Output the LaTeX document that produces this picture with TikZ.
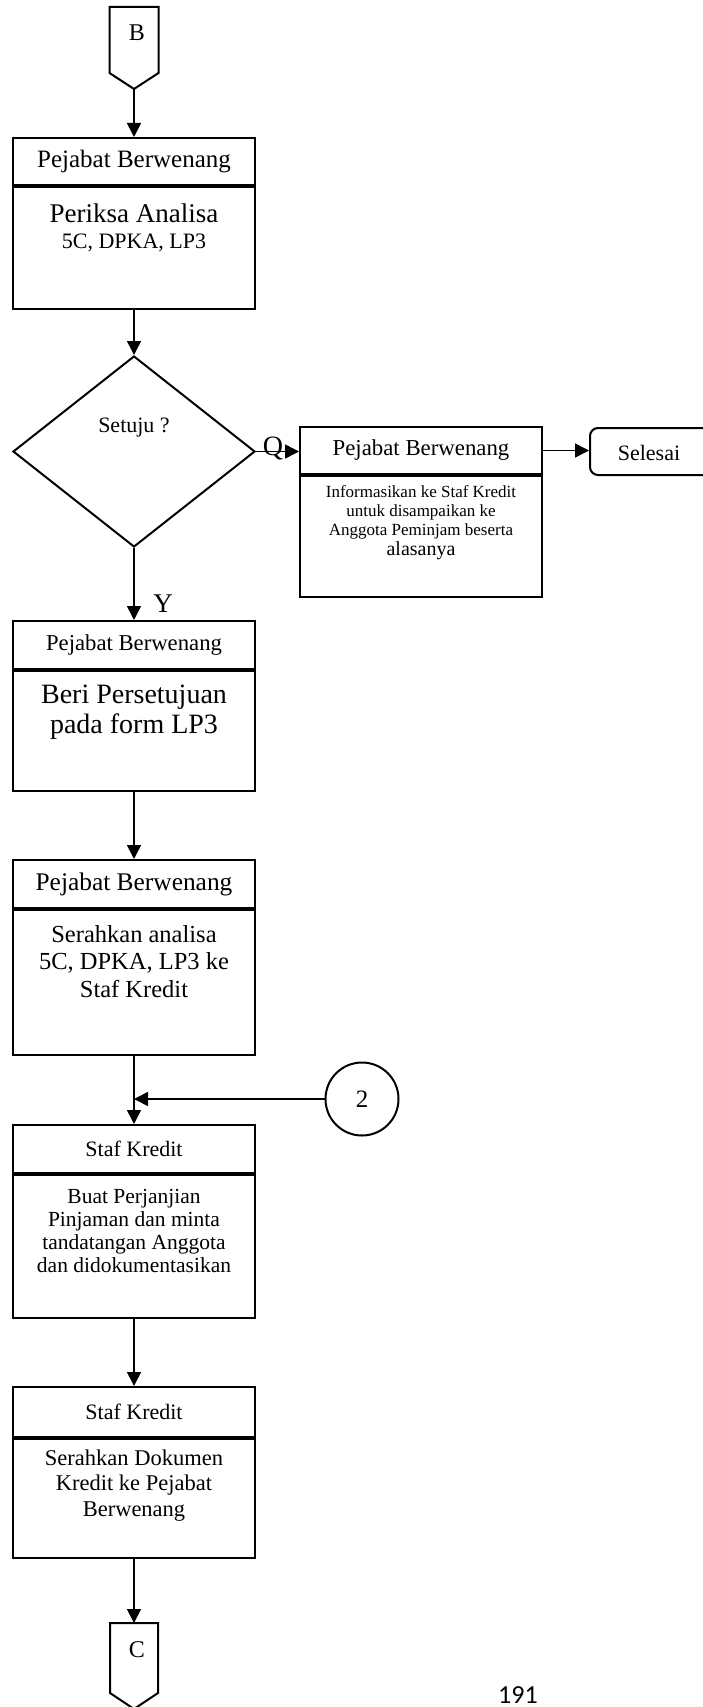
\documentclass[tikz,border=0pt]{standalone}
\usepackage{fontspec}
\setmainfont{Liberation Serif}
\newfontfamily\carl{Carlito}
\usetikzlibrary{shapes.geometric,arrows.meta}
\newcommand\fsz[1]{\fontsize{#1}{#1}\selectfont}
\begin{document}
\begin{tikzpicture}[x=1pt,y=-1pt,
  hdr/.style={draw, line width=2pt, minimum width=242pt, inner sep=0pt, anchor=north},
  bdy/.style={draw, line width=2pt, minimum width=242pt, inner sep=0pt, anchor=north},
  arr/.style={line width=1.6pt, -{Triangle[length=14pt,width=14pt]}},
  ln/.style={inner sep=0pt, align=center},
  conn/.style={draw, line width=2pt, line join=miter}]
\useasboundingbox (0,0) rectangle (703,1707);
\clip (0,0) rectangle (703,1707);

% connector B
\draw[conn] (109.5,7) -- (158.5,7) -- (158.5,73) -- (134,89) -- (109.5,73) -- cycle;
\coordinate (Bp) at (134,89);
\node[font=\fsz{24}, inner sep=0pt] (Bt) at (137,33) {B};

% box 1
\node[hdr, minimum height=47pt, font=\fsz{25}] (h1) at (134,137) {Pejabat Berwenang};
\node[bdy, minimum height=122pt] (b1) at (h1.south) {};
\node[ln, font=\fsz{27}] (t1a) at (134,213) {Periksa Analisa};
\node[ln, font=\fsz{22}] (t1b) at (134,243) {5C, DPKA, LP3};

% decision
\node[diamond, draw, line width=2pt, minimum width=242pt, minimum height=191pt, inner sep=0pt] (d) at (134,451.5) {};
\node[font=\fsz{22}, inner sep=0pt] (st) at (134,428) {Setuju ?};

% right box
\node[hdr, minimum height=47pt, font=\fsz{22.8}] (hR) at (421,426) {Pejabat Berwenang};
\node[bdy, minimum height=121pt] (bR) at (hR.south) {};
\node[ln, font=\fontsize{17}{19}\selectfont] (tRa) at (421,512) {Informasikan ke Staf Kredit\\untuk disampaikan ke\\Anggota Peminjam beserta};
\node[ln, font=\fsz{20}] (tRb) at (421,551) {alasanya};

% selesai
\node[draw, line width=2pt, rounded corners=8pt, minimum width=130pt, minimum height=47pt, anchor=west, inner sep=0pt] (sel) at (589,451.5) {};
\node[font=\fsz{22}, inner sep=0pt] (selt) at (649,453) {Selesai};

% box 3
\node[hdr, minimum height=48pt, font=\fsz{22.7}] (h3) at (134,620) {Pejabat Berwenang};
\node[bdy, minimum height=120pt] (b3) at (h3.south) {};
\node[ln, font=\fontsize{28}{30}\selectfont] (t3) at (134,712) {Beri Persetujuan\\pada form LP3};

% box 4
\node[hdr, minimum height=48pt, font=\fsz{25.4}] (h4) at (134,859) {Pejabat Berwenang};
\node[bdy, minimum height=145pt] (b4) at (h4.south) {};
\node[ln, font=\fontsize{24.5}{27.5}\selectfont] (t4) at (134,961.5) {Serahkan analisa\\5C, DPKA, LP3 ke\\Staf Kredit};

% circle 2
\node[draw, circle, line width=2pt, minimum size=73pt, inner sep=0pt, font=\fsz{25}] (c2) at (362,1099) {2};

% box 5
\node[hdr, minimum height=48pt, font=\fsz{22}] (h5) at (134,1124) {Staf Kredit};
\node[bdy, minimum height=143pt] (b5) at (h5.south) {};
\node[ln, font=\fontsize{21.5}{23.3}\selectfont] (t5) at (134,1231) {Buat Perjanjian\\Pinjaman dan minta\\tandatangan Anggota\\dan didokumentasikan};

% box 6
\node[hdr, minimum height=50pt, font=\fsz{22}] (h6) at (134,1386) {Staf Kredit};
\node[bdy, minimum height=119pt] (b6) at (h6.south) {};
\node[ln, font=\fontsize{22.5}{25.5}\selectfont] (t6) at (134,1485.5) {Serahkan Dokumen\\Kredit ke Pejabat\\Berwenang};

% connector C
\draw[conn] (110,1623) -- (158,1623) -- (158,1693) -- (134,1709) -- (110,1693) -- cycle;
\coordinate (Ct) at (134,1623);
\node[font=\fsz{24}, inner sep=0pt] (Cl) at (137,1650) {C};

% labels
\node[font=\fsz{28}, inner sep=0pt] (q) at (273,448) {Q};
\node[font=\fsz{27}, inner sep=0pt] (yl) at (163,604) {Y};

% page number
\node[font=\carl\fsz{26}, anchor=base, inner sep=0pt] (pg) at (518,1703) {191};

% arrows
\draw[arr] (Bp) -- (h1.north);
\draw[arr] (b1.south) -- (d.north);
\draw[arr] (d.east) -- (d.east -| hR.west);
\draw[arr] (hR.east) -- (hR.east -| sel.west);
\draw[arr] (d.south) -- (h3.north);
\draw[arr] (b3.south) -- (h4.north);
\draw[arr] (b4.south) -- (h5.north);
\draw[arr] (c2.west) -- (c2.west -| b4.south);
\draw[arr] (b5.south) -- (h6.north);
\draw[arr] (b6.south) -- (Ct);
\end{tikzpicture}
\end{document}
